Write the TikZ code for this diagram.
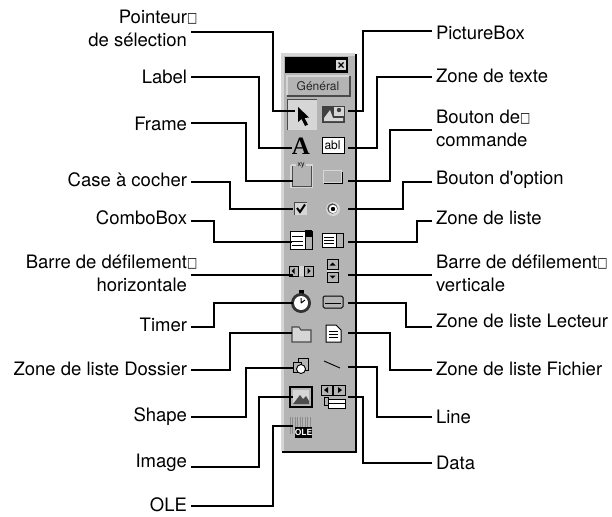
\documentclass[tikz,border=0pt]{standalone}
\usepackage{fontspec}
\setmainfont{TeX Gyre Heros}
\newfontfamily\droit{TeX Gyre Heros}
\newfontfamily\symfont{DejaVu Sans}
\newfontfamily\serfont{Liberation Serif}
\definecolor{tbgris}{HTML}{B4B4B4}
\definecolor{tbclair}{HTML}{D6D6D6}
\definecolor{tbsombre}{HTML}{4A4A4A}
\newcommand{\carre}{\rlap{\raisebox{1pt}{\scalebox{0.72}[0.92]{\fontsize{15}{15}\symfont □}}}}
\usetikzlibrary{calc}
\tikzset{
  lefttext/.style={anchor=east, align=right, inner xsep=4pt, inner ysep=0pt, outer sep=0pt, font=\fontsize{18.5}{23}\selectfont},
  righttext/.style={anchor=west, align=left, inner xsep=4pt, inner ysep=0pt, outer sep=0pt, font=\fontsize{18.5}{23}\selectfont},
  wire/.style={line width=1.4pt, black},
  thin line/.style={line width=0.8pt, black}
}

\begin{document}
\begin{tikzpicture}[x=1pt, y=-1pt]
    \useasboundingbox (0,0) rectangle (612,516);
    % palette
    \fill[black] (282,54) rectangle (356.5,452.5);
    \fill[tbclair] (281,53) rectangle (355,451);
    \fill[tbgris] (284,56) rectangle (355,451);
    \fill[black] (285,57) rectangle (348,73);
    \fill[tbclair] (336,60) rectangle (346,70);
    \draw[black, line width=1.1pt] (338.5,62.5) -- (343.5,67.5) (343.5,62.5) -- (338.5,67.5);
    \fill[tbsombre] (287,76) rectangle (351,97);
    \fill[tbclair] (286,75) rectangle (349,95);
    \fill[tbgris] (288,77) rectangle (349,95);
    \node[inner sep=0pt, font=\fontsize{12}{12}\selectfont, text=black!85] (general) at (318,86) {Général};
    % pointeur, PictureBox
    \fill[tbclair] (287,99) rectangle (317,130);
    \draw[tbsombre, line width=0.8pt] (287,130) -- (287,99) -- (317,99);
    \fill[black] (298,107) -- (298,122) -- (301.5,119) -- (305,126) -- (308,124.5) -- (304.5,118) -- (309,117.5) -- cycle;
    \fill[black!75] (322,106) rectangle (345,123);
    \fill[tbclair] (334,107) rectangle (344,116);
    \fill[black!75] (339,110) circle (2.2);
    \fill[tbclair] (324,118) -- (330,110) -- (333,118) -- (343,118) -- (343,121) -- (324,121) -- cycle;
    % A, abl
    \node[inner sep=0pt, font=\serfont\bfseries\fontsize{25}{25}\selectfont] (lettre) at (301,146) {A};
    \draw[black, fill=white, line width=0.9pt] (322,137) rectangle (344,153);
    \node[inner sep=0pt, font=\fontsize{12}{12}\selectfont] (abl) at (332.5,145) {abl};
    % cadre, bouton
    \draw[tbclair, line width=1.4pt] (291,165) -- (291,187) -- (312,187) -- (312,165) -- (306,165) (296,165) -- (291,165);
    \draw[tbsombre, line width=0.7pt] (292,166) -- (292,186) -- (311,186) -- (311,166);
    \node[inner sep=0pt, font=\fontsize{7}{7}\selectfont] (xy) at (301,165.5) {xy};
    \fill[black] (324,172) rectangle (342.5,183.5);
    \fill[tbclair] (323,170) rectangle (341.5,182.5);
    \fill[tbgris] (324,171) rectangle (341,182);
    % case, option
    \fill[tbclair] (294,202) rectangle (307,215);
    \draw[tbsombre, line width=0.9pt] (294,215) -- (294,202) -- (307,202);
    \draw[black, line width=2pt] (297,208) -- (300,212) -- (305,204.5);
    \fill[tbclair] (333,209) circle (7);
    \fill[tbsombre] (332.5,208.5) circle (5.2);
    \fill[white] (333,209) circle (4.2);
    \fill[black] (333,209) circle (2.2);
    % ComboBox, zone de liste
    \draw[black, fill=white, line width=1pt] (290,231) rectangle (312,249);
    \fill[black] (305,230) rectangle (312,236);
    \draw[black, fill=tbgris, line width=0.8pt] (305,236) rectangle (312,249);
    \foreach \ly in {236,241,245} {\draw[thin line] (292,\ly) -- (303,\ly);}
    \draw[black, fill=white, line width=1pt] (322,233) rectangle (343,247);
    \draw[black, fill=tbgris, line width=0.8pt] (336,233) rectangle (343,247);
    \foreach \ly in {237,240,243} {\draw[thin line] (324,\ly) -- (334,\ly);}
    % barres
    \fill[tbclair] (289,266) rectangle (313,276);
    \foreach \bx/\sg in {289/1,304/-1} {
      \draw[black, fill=tbgris, line width=0.7pt] (\bx,266) rectangle ++(9,10);
      \fill[black] ($(\bx,271)+(4.5-2*\sg,0)$) -- ++(3*\sg,-3) -- ++(0,6) -- cycle;
    }
    \fill[tbclair] (327,259) rectangle (338,283);
    \foreach \by/\sg in {259/1,272/-1} {
      \draw[black, fill=tbgris, line width=0.7pt] (327,\by) rectangle ++(11,10);
      \fill[black] ($(332.5,\by)+(0,5-1.5*\sg)$) -- ++(-3,3*\sg) -- ++(6,0) -- cycle;
    }
    % Timer, lecteur
    \fill[black] (298.5,290) rectangle (303.5,294);
    \fill[black!80] (301,303) circle (10);
    \fill[white] (301,303) circle (7);
    \draw[black, line width=1pt] (301,303) -- (301,298) (301,303) -- (305,300);
    \draw[black, fill=tbgris, line width=1pt, rounded corners=1.5pt] (323,296) rectangle (343,308);
    \draw[thin line] (325,303) -- (341,303);
    % dossier, fichier
    \draw[tbsombre, fill=tbclair, line width=1.1pt] (292,342) -- (292,327) -- (299,327) -- (301,330) -- (311,330) -- (311,342) -- cycle;
    \draw[black, fill=white, line width=1pt] (326,325) -- (336,325) -- (341,330) -- (341,342) -- (326,342) -- cycle;
    \foreach \ly in {331,334,337} {\draw[thin line] (329,\ly) -- (338,\ly);}
    % Shape, Line
    \draw[black, fill=tbgris, line width=0.9pt] (298,358) rectangle (308,370);
    \draw[black, fill=tbgris, line width=0.9pt] (293,362) rectangle (301,372);
    \draw[black, fill=white, line width=0.9pt] (301,369) circle (4.5);
    \draw[black, line width=0.9pt] (324,361) -- (340,368);
    % Image, Data
    \draw[black, fill=tbgris, line width=1.4pt] (290,387) rectangle (312,407);
    \fill[tbclair] (293,390) rectangle (309,404);
    \fill[black!70] (293,404) -- (300,395) -- (303,399) -- (306,396) -- (309,401) -- (309,404) -- cycle;
    \draw[black, fill=tbgris, line width=0.8pt] (321,385) rectangle (332,395);
    \draw[black, fill=tbgris, line width=0.8pt] (333.5,385) rectangle (345,395);
    \fill[black] (324,390) -- (328,387) -- (328,393) -- cycle;
    \fill[black] (342,390) -- (338,387) -- (338,393) -- cycle;
    \draw[black, line width=0.9pt] (324,397) rectangle (328,405);
    \draw[black, fill=white, line width=0.9pt] (328,399) rectangle (345,403);
    \draw[black, fill=white, line width=0.9pt] (328,403) rectangle (345,408);
    % OLE
    \draw[black!45, line width=0.5pt, step=2.5] (290,417) grid (310,434);
    \node[fill=black, text=white, inner sep=0pt, minimum width=17pt, minimum height=11pt,
          font=\bfseries\fontsize{8.5}{8.5}\selectfont] (ole) at (303.5,432.5) {OLE};
    % legendes a gauche
    \foreach \id/\lab/\ty/\ly/\kx/\tx/\ey in {%
      pointeur/{Pointeur\carre\\de sélection}/28.5/32/273/295/111,
      labelicon/{Label}/77/77/259/292/148,
      frame/{Frame}/124/123/246/293/181,
      casecocher/{Case à cocher}/180/182/230/293/209,
      combobox/{ComboBox}/218/221/214/292/242,
      barreh/{Barre de défilement\carre\\horizontale}/273.5/275/250/293/275,
      timer/{Timer}/325/327/214/293/303,
      dossier/{Zone de liste Dossier}/369/370/230/292/333,
      shape/{Shape}/417/417/246/293/368,
      image/{Image}/463/467/259/293/397,
      oleicon/{OLE}/505/506/273/293/426}{%
      \node[lefttext] (\id) at (191,\ty) {\lab};
      \coordinate (\id-tip) at (\tx,\ey);
      \draw[wire] (\id.east |- 0,\ly) -| (\id-tip -| \kx,0) -- (\id-tip);
    }
    % legendes a droite
    \foreach \id/\lab/\ty/\ly/\kx/\tx/\ey in {%
      picturebox/{PictureBox}/33/31/363/348/111,
      zonetexte/{Zone de texte}/76/77/377/348/148,
      boutoncmd/{Bouton de\carre\\commande}/128/130/390/348/181,
      boutonopt/{Bouton d{\droit'}option}/180/182/403/348/209,
      zoneliste/{Zone de liste}/218/221/417/348/242,
      barrev/{Barre de défilement\carre\\verticale}/273.5/275/400/348/275,
      lecteur/{Zone de liste Lecteur}/321/327/406/348/303,
      fichier/{Zone de liste Fichier}/369/370/390/348/333,
      lineicon/{Line}/417/417/377/348/367,
      dataicon/{Data}/463/463/363/348/397}{%
      \node[righttext] (\id) at (432,\ty) {\lab};
      \coordinate (\id-tip) at (\tx,\ey);
      \draw[wire] (\id.west |- 0,\ly) -| (\id-tip -| \kx,0) -- (\id-tip);
    }
  \end{tikzpicture}
\end{document}
